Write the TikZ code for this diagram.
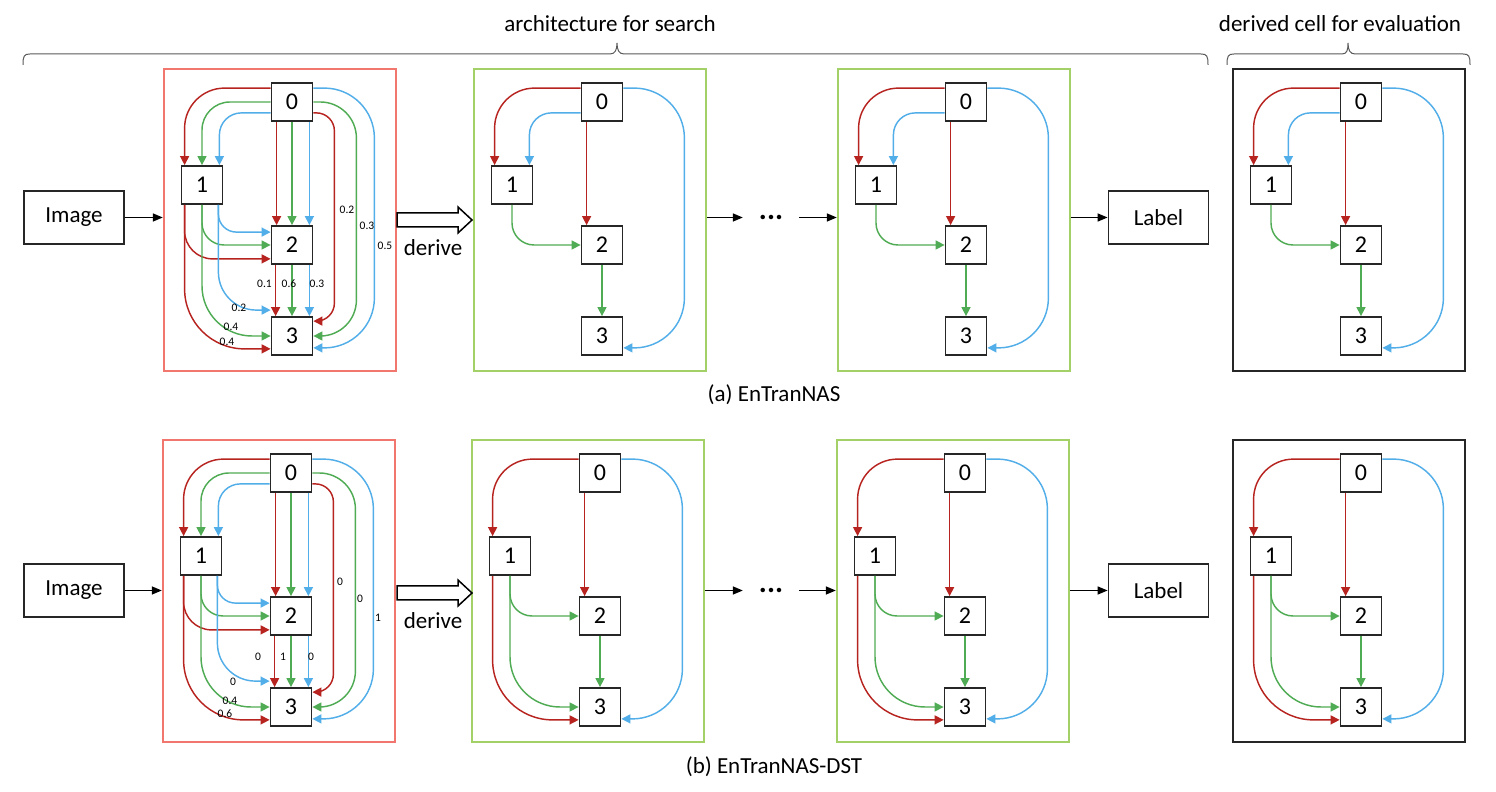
\documentclass[tikz,border=0pt]{standalone}
\usepackage{fontspec}
\setmainfont{Carlito}
\usetikzlibrary{arrows.meta}

\definecolor{rojo}{RGB}{183,36,32}
\definecolor{verde}{RGB}{80,172,84}
\definecolor{azul}{RGB}{82,174,232}
\definecolor{cajaroja}{RGB}{241,118,110}
\definecolor{cajaverde}{RGB}{163,209,103}
\definecolor{gris}{RGB}{90,90,90}

\begin{document}
\begin{tikzpicture}[x=1pt,y=1pt]
\tikzset{
    etiqueta/.style={text centered, font=\fontsize{23}{27}\selectfont},
    nodo/.style={draw=black!85, line width=1.8, minimum width=41, minimum height=38, inner sep=0, font=\fontsize{24}{28}\selectfont},
    entrada/.style={draw=black!85, line width=1.8, minimum width=100, minimum height=53, inner sep=0, etiqueta},
    celda/.style={line width=2.4, minimum width=232, minimum height=302, inner sep=0},
    peso/.style={font=\fontsize{11.5}{13}\selectfont, inner sep=0},
    flecha/.style={line width=1.45, -{Triangle[length=9pt,width=9pt]}},
    negra/.style={line width=1.5, -{Triangle[length=10pt,width=8pt]}}
}
\fill[white] (0,0) rectangle (1496,792);
\useasboundingbox (0,0) rectangle (1496,792);

% llaves de arriba
\draw[gris, line width=1] (23,727) .. controls (23,736) and (24,738) .. (30,738) -- (610,738) .. controls (615,738) and (617,742) .. (617,749) .. controls (617,742) and (619,738) .. (624,738) -- (1201,738) .. controls (1207,738) and (1208,736) .. (1208,727);
\draw[gris, line width=1] (1227,727) .. controls (1227,736) and (1228,738) .. (1234,738) -- (1342,738) .. controls (1347,738) and (1348,742) .. (1348,749) .. controls (1348,742) and (1350,738) .. (1355,738) -- (1463,738) .. controls (1469,738) and (1470,736) .. (1470,727);
\node[etiqueta] (busca) at (610,768) {architecture for search};
\node[etiqueta] (evalua) at (1340,768) {derived cell for evaluation};

% celdas
\foreach \c/\l/\t/\col in {sa/164/69/cajaroja, ga/474/69/cajaverde, ha/838/69/cajaverde, da/1233/69/black!85,
                           sb/163/440/cajaroja, gb/472/440/cajaverde, hb/837/440/cajaverde, db/1233/440/black!85} {
  \node[celda, draw=\col] (\c) at (\l+116, 792-\t-151) {};
  \node[nodo] (\c0) at (\l+128, 792-\t-33) {0};
  \node[nodo] (\c1) at (\l+38, 792-\t-116) {1};
  \node[nodo] (\c2) at (\l+128, 792-\t-176) {2};
  \node[nodo] (\c3) at (\l+128, 792-\t-267) {3};
}

% 0 -> 1
\foreach \c in {sa,ga,ha,da,sb,gb,hb,db}
  \draw[flecha, rojo, rounded corners=40] ([yshift=-6]\c0.north west) -| ([xshift=4]\c1.north west);
\foreach \c in {sa,sb}
  \draw[flecha, verde, rounded corners=28] (\c0.west) -| (\c1.north);
\foreach \c in {sa,ga,ha,da,sb}
  \draw[flecha, azul, rounded corners=22] ([yshift=9]\c0.south west) -| ([xshift=-4]\c1.north east);

% 0 -> 2
\foreach \c in {sa,ga,ha,da,sb,gb,hb,db}
  \draw[flecha, rojo] ([xshift=6]\c0.south west) -- ([xshift=6]\c2.north west);
\foreach \c in {sa,sb} {
  \draw[flecha, verde] (\c0.south) -- (\c2.north);
  \draw[flecha, azul] ([xshift=-4]\c0.south east) -- ([xshift=-4]\c2.north east);
}

% 0 -> 3
\foreach \c in {sa,sb} {
  \draw[flecha, rojo, rounded corners=18] ([yshift=9]\c0.south east) -- ([xshift=21,yshift=9]\c0.south east) |- ([yshift=-5]\c3.north east);
  \draw[flecha, verde, rounded corners=36] (\c0.east) -- ([xshift=43]\c0.east) |- (\c3.east);
}
\foreach \c in {sa,ga,ha,da,sb,gb,hb,db}
  \draw[flecha, azul, rounded corners=50] ([yshift=-6]\c0.north east) -- ([xshift=61,yshift=-6]\c0.north east) |- ([yshift=8]\c3.south east);

% 1 -> 2
\foreach \c in {sa,sb} {
  \draw[flecha, azul, rounded corners=18] ([xshift=-5]\c1.south east) |- ([yshift=-7]\c2.north west);
  \draw[flecha, rojo, rounded corners=28] ([xshift=4]\c1.south west) |- ([yshift=6]\c2.south west);
}
\foreach \c in {sa,ga,ha,da,sb,gb,hb,db}
  \draw[flecha, verde, rounded corners=22] (\c1.south) |- (\c2.west);

% 1 -> 3
\foreach \c in {sa,sb}
  \draw[flecha, azul, rounded corners=38] ([xshift=-5]\c1.south east) |- ([yshift=6]\c3.north west);
\foreach \c in {sa,sb,gb,hb,db} {
  \draw[flecha, verde, rounded corners=50] (\c1.south) |- (\c3.west);
  \draw[flecha, rojo, rounded corners=60] ([xshift=4]\c1.south west) |- ([yshift=7]\c3.south west);
}

% 2 -> 3
\foreach \c in {sa,ga,ha,da,sb,gb,hb,db}
  \draw[flecha, verde] (\c2.south) -- (\c3.north);
\foreach \c in {sa,sb} {
  \draw[flecha, rojo] ([xshift=5]\c2.south west) -- ([xshift=5]\c3.north west);
  \draw[flecha, azul] ([xshift=-4]\c2.south east) -- ([xshift=-4]\c3.north east);
}

% pesos
\foreach \c/\t/\dx/\dy [count=\i] in {sa/0.2/67/10, sa/0.3/87/-6, sa/0.5/105/-26, sa/0.1/-15.5/-64, sa/0.6/9/-64, sa/0.3/37/-64,
                                      sa/0.2/-41/-88, sa/0.4/-49/-107, sa/0.4/-53/-122,
                                      sb/0/61/9, sb/0/81/-8, sb/1/99/-27, sb/0/-21/-66, sb/1/4/-66, sb/0/32/-66,
                                      sb/0/-46/-91, sb/0.4/-49/-110, sb/0.6/-54/-123}
  \node[peso] (w\i) at ([shift={(\dx,\dy)}]\c) {\t};

% entradas, salidas y derive
\foreach \f/\y in {a/574.5, b/201.5} {
  \node[entrada] (img\f) at (74,\y) {Image};
  \node[entrada] (lab\f) at (1158.5,\y) {Label};
  \node[etiqueta, font=\fontsize{30}{30}\selectfont\bfseries, minimum width=56, inner sep=0] (p\f) at (771,\y) {...};
  \draw[negra] (img\f) -- (img\f -| s\f.west);
  \draw[negra] (g\f.east |- p\f) -- (p\f.west);
  \draw[negra] (p\f.east) -- (p\f.east -| h\f.west);
  \draw[negra] (h\f.east |- lab\f) -- (lab\f.west);
  \draw[line width=1.5, fill=white] (397,\y+4.5) -- (458,\y+4.5) -- (458,\y+10.5) -- (472,\y-2.5) -- (458,\y-15.5) -- (458,\y-9.5) -- (397,\y-9.5) -- cycle;
  \node[etiqueta] (der\f) at (433,\y-30.5) {derive};
}

\node[etiqueta] (capa) at (774,397) {(a) EnTranNAS};
\node[etiqueta] (capb) at (774,25) {(b) EnTranNAS-DST};
\end{tikzpicture}
\end{document}
